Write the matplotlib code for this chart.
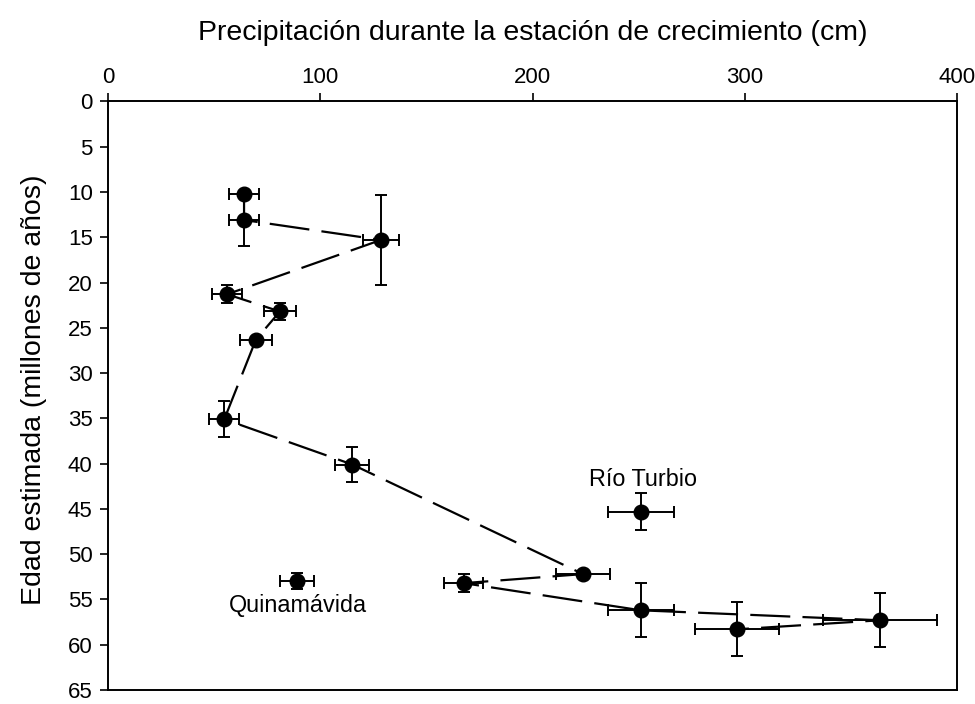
import numpy as np
import matplotlib
matplotlib.use('Agg')
import matplotlib.pyplot as plt

plt.rcParams['font.family'] = ['Liberation Sans', 'DejaVu Sans']

# main series, ordered by age
precip = [64.1, 64.1, 128.6, 56.1, 81.0, 69.7, 54.8, 115.1, 223.8, 167.6, 251.1, 363.7, 296.2]
precip_err = [7.1, 7.1, 8.5, 7.0, 7.5, 7.4, 7.0, 8.0, 12.7, 9.3, 15.6, 26.9, 19.8]
edad = [10.2, 13.1, 15.3, 21.3, 23.2, 26.3, 35.1, 40.1, 52.2, 53.2, 56.2, 57.3, 58.3]
edad_err = [0, 2.9, 5.0, 1.0, 0.9, 0, 2.0, 1.95, 0, 1.0, 3.0, 3.0, 3.0]

# isolated sites
sitios = ['Río Turbio', 'Quinamávida']
sitio_precip = [251.1, 89.2]
sitio_precip_err = [15.5, 8.0]
sitio_edad = [45.3, 53.0]
sitio_edad_err = [2.0, 0.9]
label_x = [252, 89.5]
label_y = [41.7, 55.7]

fig = plt.figure(figsize=(9.75, 7.04), dpi=100)
ax = fig.add_axes([108/975, 1-690/704, 849/975, 588.6/704])

ax.plot(precip, edad, color='black', lw=1.6, linestyle=(0, (18, 5.5)), zorder=2)
ax.errorbar(precip, edad, xerr=precip_err, yerr=edad_err, fmt='o', color='black',
            ms=10.5, elinewidth=1.4, capsize=4.2, capthick=1.4, zorder=3)
ax.errorbar(sitio_precip, sitio_edad, xerr=sitio_precip_err, yerr=sitio_edad_err, fmt='o',
            color='black', ms=10.5, elinewidth=1.4, capsize=4.2, capthick=1.4, zorder=3)
for s, x, y in zip(sitios, label_x, label_y):
    ax.text(x, y, s, ha='center', va='center', fontsize=16.8)

ax.set_xlim(0, 400)
ax.set_ylim(65, 0)
ax.set_xticks(np.arange(0, 401, 100))
ax.set_yticks(np.arange(0, 66, 5))
ax.xaxis.tick_top()
ax.xaxis.set_label_position('top')
ax.tick_params(axis='both', direction='out', length=6, width=1.2, labelsize=16, pad=5)
ax.tick_params(axis='x', pad=4)
for sp in ax.spines.values():
    sp.set_linewidth(1.4)

ax.set_xlabel('Precipitación durante la estación de crecimiento (cm)', fontsize=20.5, labelpad=19)
ax.set_ylabel('Edad estimada (millones de años)', fontsize=20.5)
ax.yaxis.set_label_coords(-0.072, 0.51)

fig.savefig('out.png', dpi=100)
